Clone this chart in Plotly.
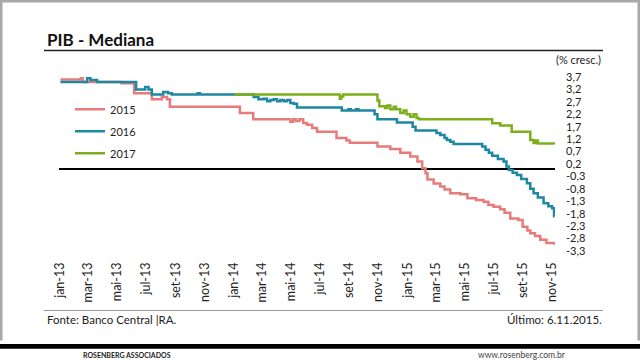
import plotly.graph_objects as go

# ---------------- data ----------------
dates_2015 = ["2013-01-02", "2013-02-14", "2013-02-18", "2013-05-10", "2013-06-06", "2013-07-13",
              "2013-08-03", "2013-08-14", "2013-08-20", "2014-01-14", "2014-02-11", "2014-04-30",
              "2014-05-06", "2014-05-12", "2014-05-19", "2014-05-27", "2014-06-04", "2014-06-15",
              "2014-06-25", "2014-08-05", "2014-08-26", "2014-09-02", "2014-10-30", "2014-11-26",
              "2014-12-17", "2015-01-07", "2015-01-22", "2015-02-01", "2015-02-08", "2015-02-12",
              "2015-02-25", "2015-03-11", "2015-03-20", "2015-04-01", "2015-04-22", "2015-05-07",
              "2015-05-25", "2015-06-10", "2015-06-20", "2015-07-01", "2015-07-15", "2015-07-24",
              "2015-08-05", "2015-08-22", "2015-08-31", "2015-09-10", "2015-09-16", "2015-09-26",
              "2015-10-07", "2015-10-20", "2015-11-06"]
pib_2015 = [3.60, 3.65, 3.50, 3.45, 3.05, 2.80,
            2.90, 2.80, 2.50, 2.25, 2.00, 1.90,
            2.00, 1.93, 2.00, 1.85, 1.78, 1.65,
            1.50, 1.25, 1.15, 1.05, 0.90, 0.80,
            0.65, 0.50, 0.30, 0.03, -0.17, -0.42,
            -0.58, -0.71, -0.83, -0.98, -1.02, -1.18,
            -1.25, -1.32, -1.45, -1.52, -1.62, -1.76,
            -1.99, -2.05, -2.32, -2.48, -2.59, -2.70,
            -2.85, -2.98, -3.05]

dates_2016 = ["2013-01-02", "2013-02-27", "2013-03-06", "2013-03-20", "2013-06-10", "2013-06-29",
              "2013-07-06", "2013-07-13", "2013-08-06", "2013-08-16", "2013-08-24", "2013-10-17",
              "2013-10-22", "2014-02-12", "2014-02-22", "2014-03-05", "2014-03-12", "2014-03-19",
              "2014-03-26", "2014-04-02", "2014-04-09", "2014-04-16", "2014-04-23", "2014-04-30",
              "2014-05-07", "2014-05-14", "2014-08-16", "2014-08-30", "2014-09-04", "2014-09-15",
              "2014-09-20", "2014-10-24", "2014-10-30", "2014-12-10", "2015-01-12", "2015-01-18",
              "2015-03-03", "2015-03-11", "2015-03-20", "2015-03-25", "2015-04-01", "2015-04-08",
              "2015-06-07", "2015-06-14", "2015-06-21", "2015-06-28", "2015-07-10", "2015-07-22",
              "2015-07-28", "2015-08-02", "2015-08-10", "2015-08-19", "2015-08-28", "2015-09-09",
              "2015-09-16", "2015-09-23", "2015-10-02", "2015-10-14", "2015-10-24", "2015-11-01",
              "2015-11-05", "2015-11-06"]
pib_2016 = [3.50, 3.65, 3.58, 3.50, 3.20, 3.30,
            3.20, 3.00, 3.10, 3.05, 3.00, 3.05,
            3.00, 2.90, 2.80, 2.83, 2.72, 2.77,
            2.80, 2.72, 2.77, 2.72, 2.77, 2.65,
            2.62, 2.47, 2.35, 2.40, 2.35, 2.40,
            2.35, 2.20, 2.00, 1.87, 1.70, 1.55,
            1.45, 1.37, 1.25, 1.17, 1.10, 1.00,
            0.90, 0.77, 0.65, 0.53, 0.40, 0.30,
            0.10, -0.04, -0.15, -0.24, -0.40, -0.57,
            -0.80, -0.98, -1.15, -1.38, -1.50, -1.58,
            -1.90, -1.90]

dates_2017 = ["2014-01-02", "2014-08-12", "2014-08-15", "2014-08-19", "2014-10-30", "2014-11-03",
              "2014-11-15", "2014-11-20", "2014-11-26", "2014-12-03", "2014-12-08", "2014-12-17",
              "2014-12-24", "2014-12-30", "2015-01-07", "2015-01-14", "2015-01-20", "2015-01-25",
              "2015-06-28", "2015-07-15", "2015-08-08", "2015-09-16", "2015-09-23", "2015-09-28",
              "2015-10-02", "2015-11-06"]
pib_2017 = [3.00, 2.82, 2.92, 3.00, 2.75, 2.52,
            2.45, 2.55, 2.40, 2.50, 2.40, 2.25,
            2.35, 2.20, 2.10, 2.20, 2.05, 2.00,
            1.84, 1.75, 1.50, 1.17, 1.04, 1.15,
            1.02, 1.00]

x_tick_dates = ["2013-01-01", "2013-03-01", "2013-05-01", "2013-07-01", "2013-09-01", "2013-11-01",
                "2014-01-01", "2014-03-01", "2014-05-01", "2014-07-01", "2014-09-01", "2014-11-01",
                "2015-01-01", "2015-03-01", "2015-05-01", "2015-07-01", "2015-09-01", "2015-11-01"]
x_tick_labels = ["jan-13", "mar-13", "mai-13", "jul-13", "set-13", "nov-13",
                 "jan-14", "mar-14", "mai-14", "jul-14", "set-14", "nov-14",
                 "jan-15", "mar-15", "mai-15", "jul-15", "set-15", "nov-15"]
y_tick_values = [3.7, 3.2, 2.7, 2.2, 1.7, 1.2, 0.7, 0.2, -0.3, -0.8, -1.3, -1.8, -2.3, -2.8, -3.3]
y_tick_labels = ["3,7", "3,2", "2,7", "2,2", "1,7", "1,2", "0,7", "0,2",
                 "-0,3", "-0,8", "-1,3", "-1,8", "-2,3", "-2,8", "-3,3"]

series_names = ["2015", "2016", "2017"]
colors = ["#E77B7B", "#1E87A1", "#7EAE1C"]

FONT = "Lato"

# ---------------- figure ----------------
fig = go.Figure()
for i, (d, v) in enumerate([(dates_2015, pib_2015), (dates_2016, pib_2016), (dates_2017, pib_2017)]):
    fig.add_trace(go.Scatter(
        x=d, y=v, mode="lines", name=series_names[i], legendgroup=series_names[i],
        line=dict(color=colors[i], width=2.5, shape="hv"),
    ))

# plot area pixels: x 59..555, y 77.3..250.7
L, R, T, B = 59, 555, 77.3, 250.7
def px(x):
    return (x - L) / (R - L)
def py(y):
    return (B - y) / (B - T)

shapes = [
    # slide frame
    dict(type="rect", x0=px(0), x1=px(640), y0=py(3), y1=py(0), fillcolor="#a8a8a8", line_width=0),
    dict(type="rect", x0=px(0), x1=px(2.5), y0=py(340), y1=py(0), fillcolor="#a8a8a8", line_width=0),
    dict(type="rect", x0=px(637.5), x1=px(640), y0=py(340), y1=py(0), fillcolor="#a8a8a8", line_width=0),
    # title underline
    dict(type="line", x0=px(44), x1=px(603), y0=py(51), y1=py(51), line=dict(color="#222222", width=1.5)),
    # footer line
    dict(type="line", x0=px(44), x1=px(603), y0=py(310), y1=py(310), line=dict(color="#999999", width=1)),
    # black bar
    dict(type="rect", x0=px(0), x1=px(640), y0=py(348), y1=py(343.5), fillcolor="#000000", line_width=0),
]

annotations = [
    dict(text="<b>PIB - Mediana</b>", x=px(45), y=py(40), xanchor="left", yanchor="middle",
         font=dict(family=FONT, size=17, color="#111111")),
    dict(text="(% cresc.)", x=px(603), y=py(59.5), xanchor="right", yanchor="middle",
         font=dict(family=FONT, size=11, color="#222222")),
    dict(text="Fonte: Banco Central |RA.", x=px(45), y=py(319), xanchor="left", yanchor="middle",
         font=dict(family=FONT, size=11.5, color="#222222")),
    dict(text="Último: 6.11.2015.", x=px(604), y=py(319), xanchor="right", yanchor="middle",
         font=dict(family=FONT, size=11.5, color="#222222")),
    dict(text="<b>ROSENBERG ASSOCIADOS</b>", x=px(81), y=py(354), xanchor="left", yanchor="middle",
         font=dict(family=FONT, size=7, color="#222222")),
    dict(text="www.rosenberg.com.br", x=px(476), y=py(354), xanchor="left", yanchor="middle",
         font=dict(family=FONT, size=8.5, color="#444444")),
]
for a in annotations:
    a.update(xref="paper", yref="paper", showarrow=False)
for s in shapes:
    s.update(xref="paper", yref="paper", layer="above")

fig.update_layout(
    width=640, height=360,
    margin=dict(l=L, r=640 - R, t=T, b=360 - B, pad=0),
    paper_bgcolor="white", plot_bgcolor="white",
    font=dict(family=FONT, color="#222222"),
    showlegend=True,
    legend=dict(x=px(70), y=py(95), xanchor="left", yanchor="top",
                bgcolor="rgba(0,0,0,0)", font=dict(family=FONT, size=11, color="#222222"),
                tracegroupgap=3, traceorder="grouped"),
    shapes=shapes, annotations=annotations,
    xaxis=dict(type="date", range=["2012-12-30", "2015-11-07"], tickmode="array",
               tickvals=x_tick_dates, ticktext=x_tick_labels, tickangle=-90,
               tickfont=dict(family=FONT, size=12.5, color="#222222"),
               showgrid=False, zeroline=False, showline=False, ticks="", ticklabelstandoff=8),
    yaxis=dict(range=[-3.3, 3.7], side="right", tickmode="array",
               tickvals=y_tick_values, ticktext=y_tick_labels,
               tickfont=dict(family=FONT, size=11, color="#222222"),
               showgrid=False, zeroline=True, zerolinecolor="#000000", zerolinewidth=1.5,
               showline=False, ticks="", ticklabelstandoff=10),
)

fig.write_html("out.html", config={"displayModeBar": False},
               post_script="document.body.style.margin='0px';document.body.style.overflow='hidden';")
